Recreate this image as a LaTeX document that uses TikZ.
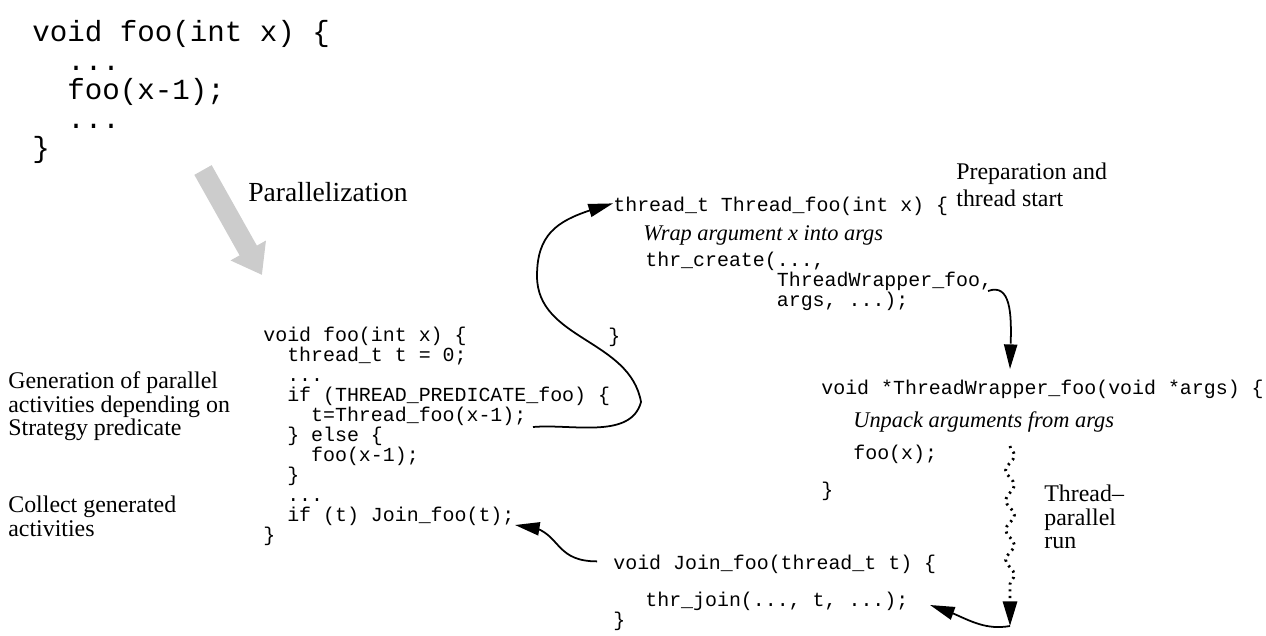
\documentclass[tikz,border=0pt]{standalone}
\usepackage{fontspec}
\setmainfont{Liberation Serif}
\setmonofont{Liberation Mono}
\usetikzlibrary{arrows.meta,bending,decorations.pathmorphing}

\newcommand\smallcode{\ttfamily\fontsize{11.34pt}{11.34pt}\selectfont\lineskiplimit=-\maxdimen}
\newcommand\largecode{\ttfamily\fontsize{16.6pt}{16.5pt}\selectfont\lineskiplimit=-\maxdimen}
\newcommand\notefont{\fontsize{13.6pt}{13.6pt}\selectfont\lineskiplimit=-\maxdimen}
\newcommand\ind{\phantom{xx}}

\begin{document}
\begin{tikzpicture}[
        x=0.02cm, y=-0.02cm,
    every node/.style={inner sep=0pt, anchor=north west, align=left,
        execute at begin node={\rule{0pt}{1em}}},
    codetext/.style={font=\smallcode},
    notetext/.style={font=\notefont},
    commenttext/.style={font=\fontsize{12.75pt}{12.75pt}\selectfont\itshape},
    callarrow/.style={line width=1pt, -{Triangle[length=14pt,width=7.5pt]}},
    threadrun/.style={line width=1.6pt, dash pattern=on 1.2pt off 2.6pt,
        decorate, decoration={snake, segment length=17pt, amplitude=2.5pt,
        post length=16pt},
        -{Triangle[length=14pt,width=8pt]}}
]
\colorlet{pargray}{black!20}
\useasboundingbox (0,0) rectangle (1266,635);

    % sequential version
    \node[font=\largecode] (seq) at (32,20)
        {void foo(int x) \{\\
         \ind ...\\
         \ind foo(x-1);\\
         \ind ...\\
         \}};
    \node[font=\fontsize{15.7pt}{15.7pt}\selectfont] (par) at (248,173.3)
        {Parallelization};
    \coordinate (parfrom) at (203,170);
    \coordinate (parto) at (262,275);
    \draw [pargray, line width=11.3pt, -{Triangle[length=16pt,width=22pt]}]
        (parfrom) -- (parto);

    % parallel version
    \node[codetext] (foo) at (263,327)
        {void foo(int x) \{\\
         \ind thread\_t t = 0;\\
         \ind ...\\
         \ind if (THREAD\_PREDICATE\_foo) \{\\
         \ind\ind t=Thread\_foo(x-1);\\
         \ind \} else \{\\
         \ind\ind foo(x-1);\\
         \ind \}\\
         \ind ...\\
         \ind if (t) Join\_foo(t);\\
         \}};
    \node[notetext] (gen) at (8,371)
        {Generation of parallel\\activities depending on\\Strategy predicate};
    \node[notetext] (collect) at (8,496)
        {Collect generated\\activities};

    % thread start
    \node[codetext] (thrhead) at (613,191) {thread\_t Thread\_foo(int x) \{};
    \node[commenttext] (wrap) at (643,217.5) {Wrap argument x into args};
    \node[codetext] (thrbody) at (645,252)
        {thr\_create(...,\\
         \phantom{thr\_create(}ThreadWrapper\_foo,\\
         \phantom{thr\_create(}args, ...);};
    \node[codetext] (thrclose) at (608,322) {\}};
    \node[font=\fontsize{13.6pt}{15.3pt}\selectfont] (prep) at (956,163)
        {Preparation and\\thread start};

    % wrapper
    \node[codetext] (wraphead) at (821,374) {void *ThreadWrapper\_foo(void *args) \{};
    \node[commenttext] (unpack) at (853,404.5) {Unpack arguments from args};
    \node[codetext] (wrapbody) at (853,439) {foo(x);};
    \node[codetext] (wrapclose) at (821,476) {\}};
    \node[font=\fontsize{13.6pt}{13.3pt}\selectfont] (run) at (1044,485)
        {Thread--\\parallel\\run};

    % join
    \node[codetext] (joinhead) at (613,549) {void Join\_foo(thread\_t t) \{};
    \node[codetext] (joinbody) at (645,586) {thr\_join(..., t, ...);};
    \node[codetext] (joinclose) at (613,606) {\}};

    \coordinate (spawn) at (533,427);
    \coordinate (bendr) at (641,402);
    \coordinate (bendl) at (537,276);
    \coordinate (wrapout) at (988,291);
    \coordinate (wrapin) at (1010,369);
    \coordinate (runstart) at (1010,446);
    \coordinate (runend) at (1010,626);
    \coordinate (joinback) at (930,605);
    \coordinate (joincall) at (515,525);

    \draw [callarrow] (spawn)
        to [out=5,in=-105,looseness=0.9] (bendr)
        to [out=100,in=-90] (bendl)
        to [out=90,in=196,looseness=1.2] (thrhead.west)
    ;
    \draw [callarrow] (wrapout)
        to [out=20,in=90] (wrapin)
    ;
    \draw [threadrun] (runstart) -- (runend);
    \draw [callarrow] (runend)
        to [out=190,in=-15] (joinback)
    ;
    \draw [callarrow] ([xshift=-9pt]joinhead.west)
        to [out=180,in=0,looseness=1.4] (joincall)
    ;
\end{tikzpicture}
\end{document}
